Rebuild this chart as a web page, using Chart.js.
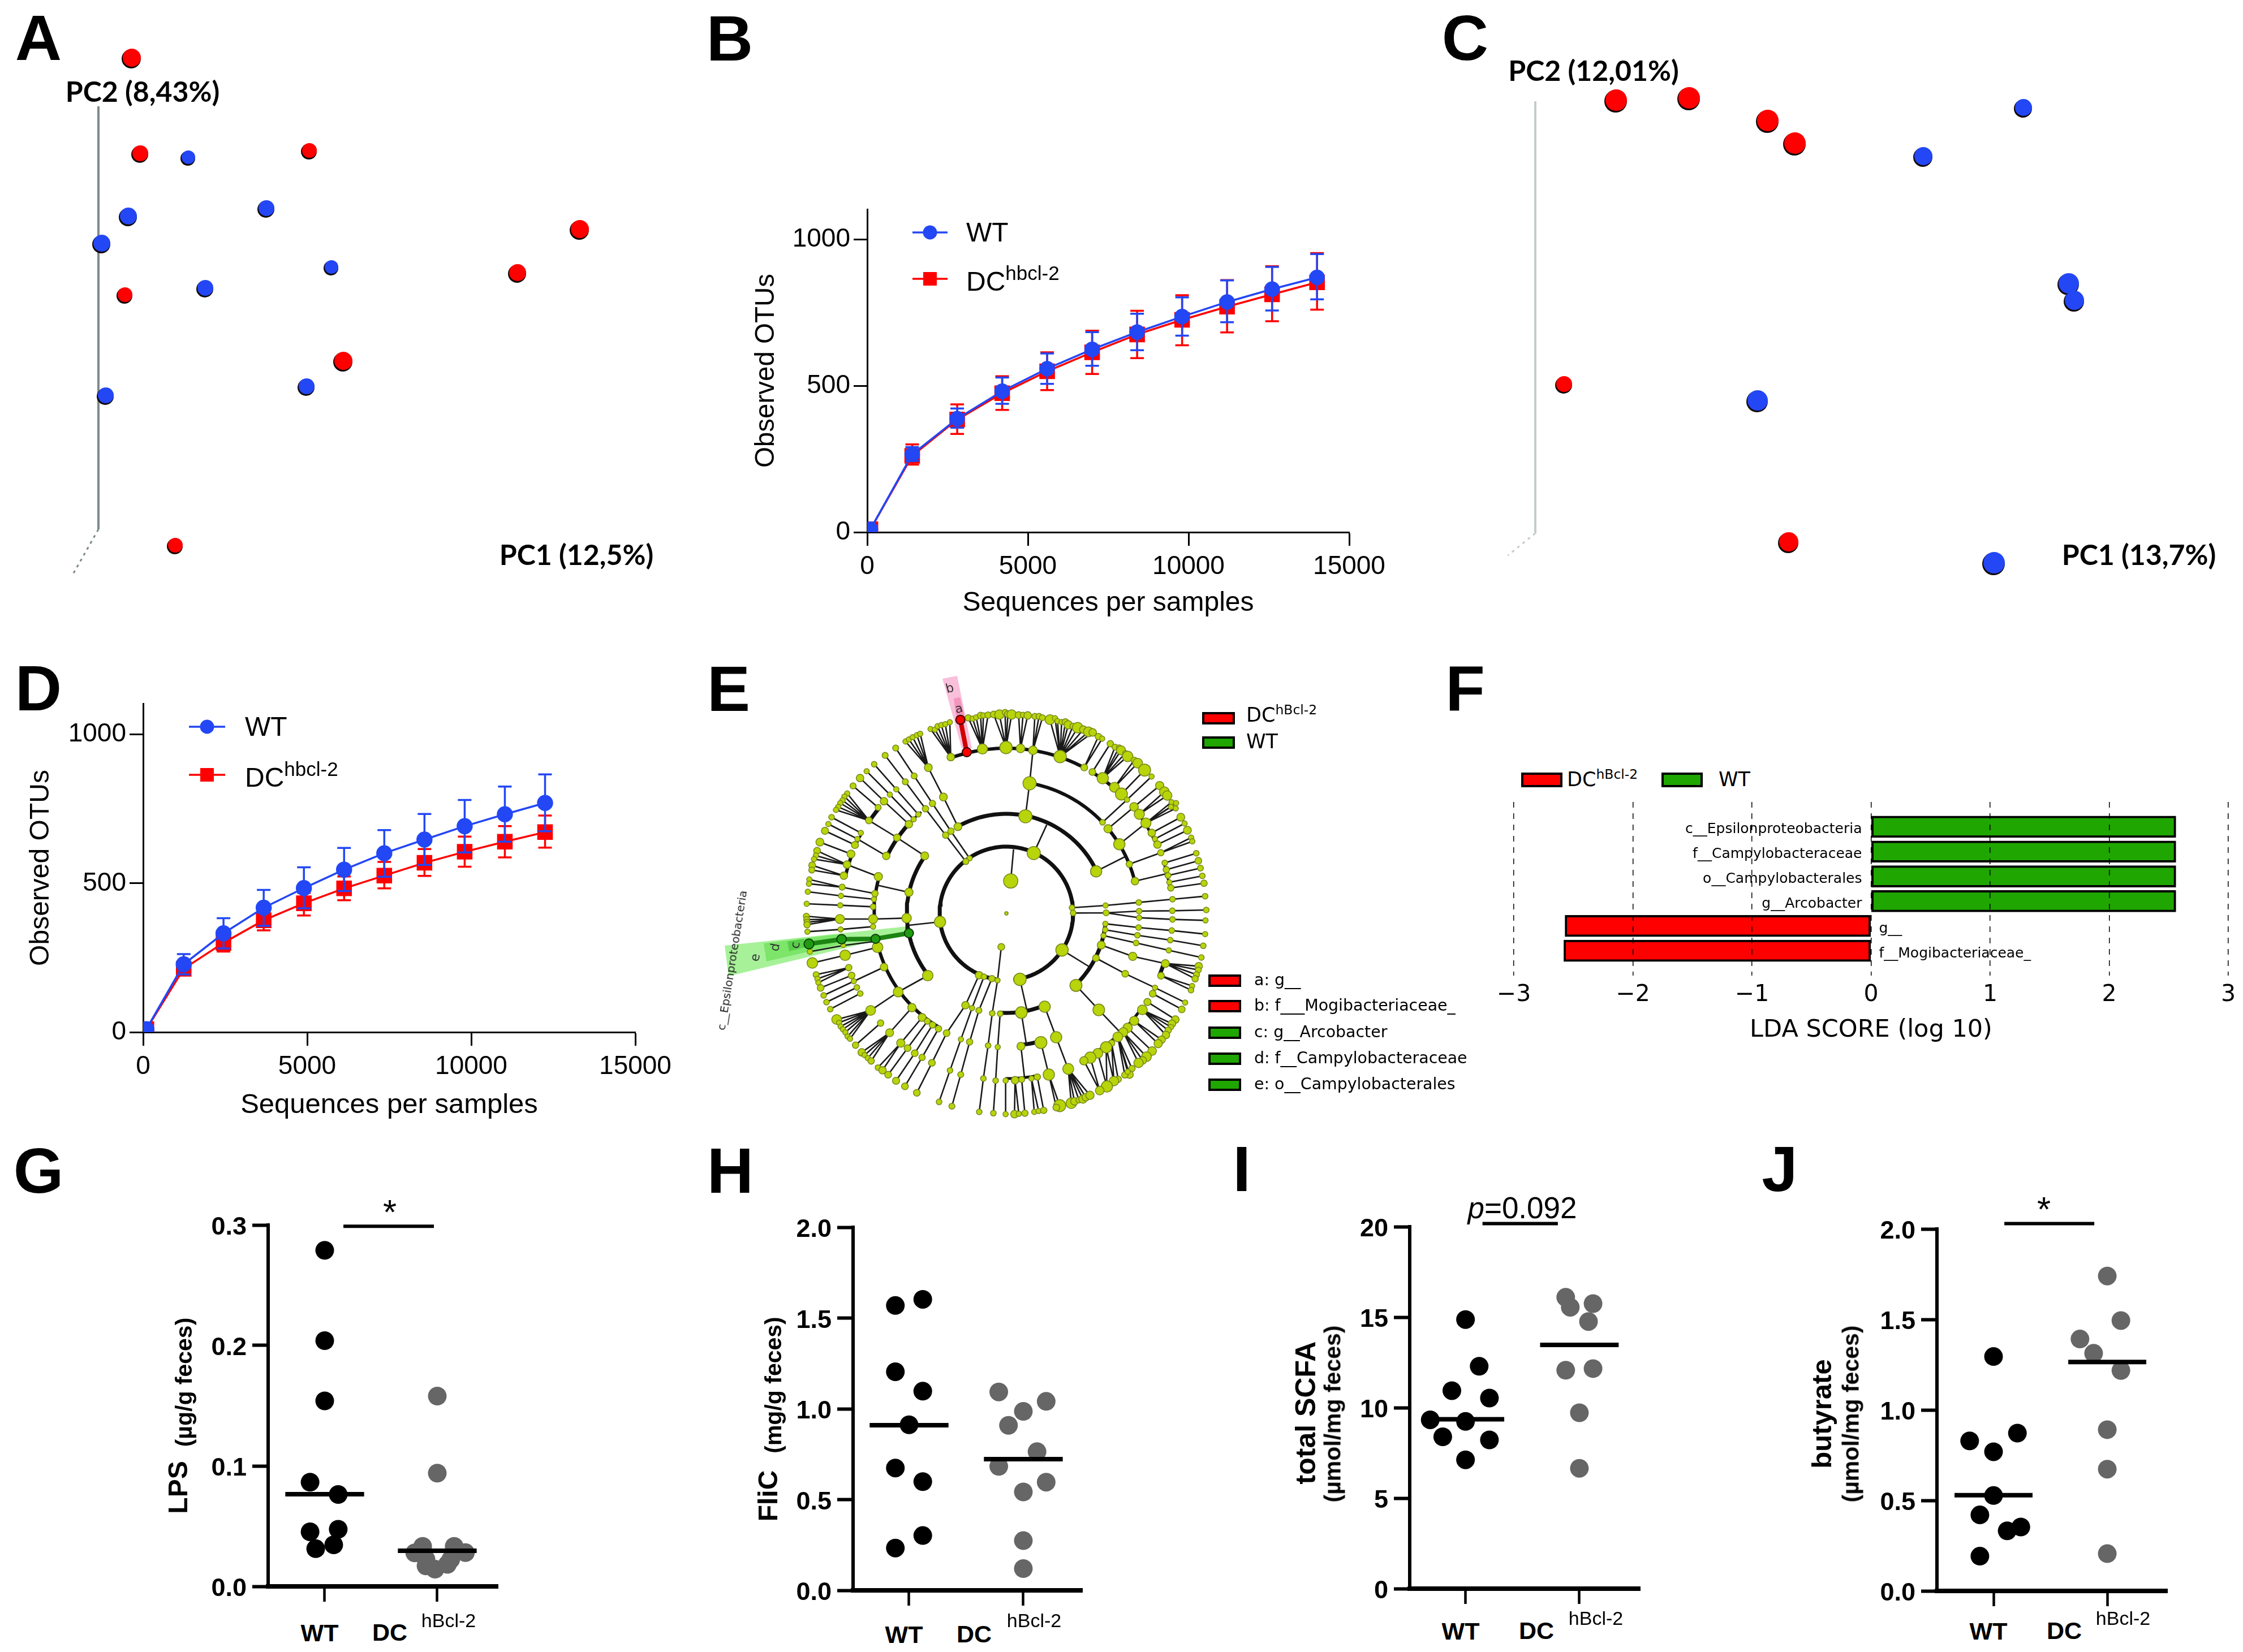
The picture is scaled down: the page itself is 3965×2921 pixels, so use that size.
<!DOCTYPE html>
<html>
<head>
<meta charset="utf-8">
<title>Figure panels A-J</title>
<script src="https://cdn.jsdelivr.net/npm/chart.js@4"></script>
<style>
    html, body { margin: 0; padding: 0; background: #fff; }
    #page { position: relative; width: 3965px; height: 2921px; overflow: hidden; background: #fff; font-family: "Liberation Sans", sans-serif; color: #000; }
    #page canvas { position: absolute; }
    .txt { position: absolute; white-space: nowrap; line-height: 1; }
    .swatch { position: absolute; box-sizing: border-box; border: 4px solid #000; }
</style>
</head>
<body>
<div id="page"></div>
<script>
// ---- panel A / C: PCoA scatter (arbitrary PC units)
var aRedPc1 = [0.59, 0.74, 3.73, 8.51, 7.41, 0.47, 4.33, 1.36];
var aRedPc2 = [8.33, 6.64, 6.69, 5.30, 4.53, 4.14, 2.97, -0.29];
var aRedDepth = [17, 15, 14, 17, 16, 14, 17, 14];
var aBluePc1 = [1.59, 2.97, 0.53, 0.06, 4.12, 1.89, 3.68, 0.13];
var aBluePc2 = [6.57, 5.67, 5.53, 5.05, 4.63, 4.26, 2.52, 2.36];
var aBlueDepth = [13, 15, 16, 16, 13, 15, 15, 15];

var cRedPc1 = [1.43, 2.72, 4.11, 4.59, 0.51, 4.48];
var cRedPc2 = [7.65, 7.69, 7.29, 6.89, 2.63, -0.16];
var cRedDepth = [20, 20, 20, 20, 15, 18];
var cBluePc1 = [8.63, 6.86, 9.43, 9.53, 3.93, 8.11];
var cBluePc2 = [7.52, 6.66, 4.41, 4.11, 2.34, -0.53];
var cBlueDepth = [16, 17, 19, 18, 19, 20];

// ---- panel B / D: rarefaction curves
var bSeq = [100, 1400, 2800, 4200, 5600, 7000, 8400, 9800, 11200, 12600, 14000];
var bWt = [10, 266, 388, 482, 559, 625, 684, 737, 787, 831, 871];
var bWtHi = [10, 291, 423, 529, 611, 684, 747, 803, 861, 907, 951];
var bWtLo = [10, 244, 357, 439, 507, 569, 622, 672, 718, 758, 796];
var bDc = [10, 261, 385, 475, 550, 615, 676, 726, 771, 813, 854];
var bDcHi = [10, 300, 437, 533, 615, 689, 757, 810, 862, 909, 954];
var bDcLo = [10, 231, 336, 418, 486, 541, 595, 639, 683, 721, 761];

var dSeq = [100, 1237, 2450, 3675, 4900, 6125, 7350, 8575, 9800, 11025, 12250];
var dWt = [10, 228, 332, 418, 484, 546, 601, 647, 692, 732, 770];
var dWtHi = [10, 262, 383, 478, 554, 619, 679, 733, 780, 825, 866];
var dWtLo = [10, 194, 281, 357, 416, 474, 522, 562, 604, 640, 675];
var dDc = [10, 213, 300, 376, 433, 483, 526, 569, 606, 640, 672];
var dDcHi = [10, 230, 320, 405, 468, 523, 572, 615, 657, 692, 728];
var dDcLo = [10, 192, 271, 342, 392, 443, 483, 525, 556, 587, 620];

var otuTicks = [0, 500, 1000];
var seqTicks = [0, 5000, 10000, 15000];

// ---- panel E: cladogram, read per quadrant crop as [x, y, size, children]
var cladeNW = [
    [902, 356, 20, [[795, 207, 14], [818, 210, 14], [832, 192, 14], [852, 186, 14], [873, 181, 14], [897, 171, 14]]],
    [1070, 313, 27, [[995, 148, 17], [1018, 152, 14], [1037, 145, 14], [1060, 135, 17], [1075, 135, 14], [1100, 133, 17]]],
    [1195, 305, 33, [[1130, 130, 18], [1160, 130, 25], [1190, 118, 15], [1205, 128, 18], [1225, 130, 25]]],
    [940, 725, 21, [[863, 568, 21, [[783, 412, 21, [[662, 273, 14], [680, 262, 14], [700, 250, 14], [722, 240, 14], [740, 232, 14]]]]]]],
    [1002, 893, 14, [[903, 749, 17, [[805, 602, 17, [[708, 456, 16, [[610, 308, 16]]]]]]]]],
    [982, 910, 16, [[875, 770, 17, [[768, 630, 17, [[661, 487, 16, [[554, 347, 16]]]]]]]]],
    [730, 660, 14, [[613, 527, 14, [[496, 394, 15]]]]],
    [705, 686, 14, [[579, 555, 14, [[456, 431, 14]]]]],
    [680, 712, 20, [[548, 590, 20, [[421, 467, 20]]]]],
    [517, 623, 16, [[384, 509, 16]]],
    [764, 880, 21, [[617, 783, 19, [[468, 692, 18, [[353, 549, 14], [338, 565, 14], [328, 585, 14], [316, 600, 14], [305, 620, 14], [293, 636, 14]]]]]]],
    [560, 880, 20, [[407, 790, 14, [[253, 711, 14]]]]],
    [425, 758, 14, [[270, 675, 15]]],
    [394, 822, 19, [[235, 747, 19]]],
    [680, 1073, 22, [[510, 1035, 0]]],
    [518, 990, 22, [[352, 926, 20, [[193, 853, 18], [187, 878, 14], [177, 897, 14]]]]],
    [373, 870, 21, [[208, 807, 21]]],
    [335, 985, 20, [[167, 930, 18], [165, 955, 16]]],
    [500, 1080, 17, [[326, 1046, 16, [[152, 1005, 14], [150, 1028, 14]]]]],
    [495, 1110, 14, [[320, 1092, 14, [[144, 1070, 14]]]]],
    [490, 1150, 15, [[316, 1142, 14, [[138, 1134, 14]]]]]
];
var cladeNE = [
    [12, 1185, 9],
    [35, 1013, 38, [[50, 845, 0]]],
    [157, 865, 35, [[226, 715, 0]]],
    [113, 670, 35, [[135, 495, 35, [[153, 320, 23, [[163, 140, 16], [185, 140, 16], [203, 147, 16]]]]]]],
    [87, 310, 23, [[77, 133, 18], [100, 132, 14], [125, 135, 20]]],
    [297, 353, 33, [[243, 157, 26], [270, 150, 14], [283, 165, 14], [305, 170, 14], [325, 170, 18], [340, 185, 22], [365, 192, 16], [390, 200, 28], [420, 210, 20], [447, 222, 26], [470, 225, 20]]],
    [425, 411, 18, [[500, 247, 17], [520, 258, 14]]],
    [468, 435, 18, [[563, 285, 17]]],
    [523, 468, 30, [[588, 303, 16], [610, 305, 14], [620, 320, 24], [643, 335, 14], [655, 352, 28]]],
    [585, 516, 26, [[690, 373, 17], [708, 388, 26]]],
    [622, 552, 32, [[745, 425, 32]]],
    [522, 702, 15, [[652, 582, 14, [[782, 459, 14]]]]],
    [551, 736, 22, [[689, 620, 23, [[825, 507, 22]]]]],
    [717, 659, 27, [[850, 540, 26], [865, 560, 25]]],
    [611, 818, 30, [[752, 706, 27, [[888, 595, 14], [912, 600, 14], [885, 620, 14], [910, 628, 14]]]]],
    [783, 758, 20, [[937, 675, 21]]],
    [800, 790, 14, [[957, 708, 14]]],
    [813, 820, 20, [[972, 744, 21]]],
    [664, 924, 17, [[831, 863, 17, [[992, 783, 14], [998, 803, 14]]]]],
    [694, 1014, 20, [[860, 975, 0]]],
    [852, 917, 15, [[1019, 866, 15]]],
    [860, 953, 17, [[1030, 906, 18]]],
    [869, 984, 16, [[1041, 945, 16]]],
    [876, 1020, 14, [[1051, 986, 15]]],
    [884, 1050, 17, [[1060, 1025, 17]]],
    [488, 962, 30, [[640, 885, 0]]],
    [360, 1155, 15, [[538, 1143, 14, [[714, 1127, 15, [[893, 1110, 15, [[1066, 1094, 15]]]]]]]]],
    [366, 1183, 15, [[541, 1182, 16, [[716, 1173, 15, [[892, 1171, 15, [[1072, 1167, 15]]]]], [716, 1208, 14, [[893, 1217, 15, [[1068, 1222, 14]]]]]]]]]
];
var cladeSW = [
    [845, 60, 30, [[680, 78, 0]]],
    [668, 40, 25, [[490, 45, 24, [[314, 45, 24, [[136, 30, 16], [138, 48, 16], [140, 62, 16], [140, 75, 17]]]]]]],
    [490, 85, 14, [[318, 100, 14, [[142, 112, 14]]]]],
    [490, 165, 0, [[332, 185, 12, [[155, 218, 14]]]]],
    [514, 195, 28, [[342, 237, 28, [[168, 278, 28]]]]],
    [548, 300, 20, [[388, 375, 0]]],
    [361, 303, 17, [[188, 340, 16], [195, 362, 14], [200, 382, 14]]],
    [376, 344, 18, [[212, 410, 18]]],
    [388, 375, 14, [[228, 450, 15]]],
    [404, 408, 15, [[243, 486, 15]]],
    [422, 440, 15, [[263, 523, 15]]],
    [623, 432, 26, [[780, 345, 28], [477, 530, 26, [[297, 578, 26], [310, 595, 14], [318, 615, 14], [330, 630, 14], [343, 646, 14], [355, 668, 14], [368, 680, 14]]]]],
    [696, 515, 22, [[578, 648, 21, [[430, 752, 20], [445, 767, 14], [462, 783, 14], [480, 798, 17]]]]],
    [530, 597, 17, [[397, 714, 17]]],
    [750, 567, 21, [[637, 703, 22, [[516, 833, 15], [540, 847, 20]]]]],
    [778, 587, 16, [[673, 730, 18, [[570, 871, 18]]]]],
    [805, 607, 17, [[711, 757, 18, [[612, 903, 19]]]]],
    [837, 627, 17, [[750, 779, 17, [[659, 932, 18]]]]],
    [1052, 343, 20, [[980, 502, 20, [[880, 650, 18, [[802, 808, 18, [[722, 967, 18]]]], [912, 667, 18, [[842, 827, 18, [[770, 987, 18]]]]]]]]]],
    [1078, 351, 15, [[1015, 517, 14, [[956, 683, 14, [[898, 848, 15, [[840, 1015, 15]]]]]]]]],
    [1120, 361, 17, [[1051, 530, 16, [[1002, 697, 17, [[955, 870, 16, [[908, 1038, 16]]]]]], [1081, 535, 16, [[1042, 708, 17, [[1003, 880, 17, [[968, 1055, 16]]]]]]]]]],
    [1150, 370, 14, [[1170, 193, 18], [1122, 545, 15, [[1100, 716, 15, [[1075, 891, 15, [[1053, 1068, 15]]]]]]]]],
    [1164, 547, 15, [[1151, 724, 14, [[1140, 902, 15, [[1128, 1075, 15]]]]]]]
];
var cladeSE = [
    [537, 70, 14, [[713, 90, 15, [[889, 106, 15, [[1066, 125, 14]]]]]]],
    [536, 102, 14, [[707, 131, 15, [[881, 157, 15, [[1056, 187, 15]]]]]]],
    [527, 133, 14, [[700, 172, 15, [[873, 211, 14, [[1046, 249, 15]]]]]]],
    [515, 183, 21, [[682, 243, 22, [[855, 281, 21, [[1032, 295, 20], [1030, 315, 16], [1020, 340, 16], [1013, 362, 17]]]]]]],
    [832, 346, 18, [[997, 400, 14], [991, 422, 15]]],
    [487, 252, 18, [[642, 335, 18, [[800, 409, 14, [[960, 488, 14]]]]]]],
    [788, 441, 18, [[942, 524, 18]]],
    [381, 397, 32, [[502, 527, 31, [[610, 640, 0]]]]],
    [307, 209, 33, [[450, 297, 0]]],
    [84, 365, 33, [[120, 525, 0]]],
    [91, 541, 31, [[118, 710, 0]]],
    [89, 720, 21, [[108, 885, 0]]],
    [8, 902, 14, [[8, 1080, 14]]],
    [58, 900, 20, [[55, 1080, 20], [78, 1078, 14]]],
    [93, 896, 16, [[110, 1075, 17]]],
    [145, 891, 14, [[160, 1068, 14], [183, 1063, 14]]],
    [176, 883, 17, [[210, 1060, 17]]],
    [215, 510, 30, [[276, 672, 30, [[340, 840, 29, [[356, 1022, 28], [373, 1012, 20], [397, 1005, 16], [418, 1000, 22], [433, 990, 20], [455, 980, 22]]]]]]],
    [195, 700, 32, [[237, 870, 30, [[295, 1035, 32], [277, 1045, 18]]]]],
    [760, 485, 19, [[908, 578, 20]]],
    [733, 527, 26, [[890, 600, 20], [885, 618, 14], [870, 635, 17], [858, 660, 20]]],
    [690, 585, 24, [[835, 685, 20], [817, 706, 22]]],
    [655, 622, 25, [[785, 745, 23]]],
    [632, 645, 24, [[755, 775, 26], [735, 795, 20], [713, 808, 25]]],
    [603, 670, 26, [[678, 838, 17], [665, 870, 20], [640, 872, 17], [655, 855, 14]]],
    [570, 703, 17, [[605, 895, 17], [582, 905, 25]]],
    [541, 725, 30, [[582, 905, 0], [545, 933, 30]]],
    [497, 757, 26, [[545, 933, 0]]],
    [457, 780, 30, [[507, 955, 23]]],
    [423, 797, 22, [[507, 955, 0]]]
];
var cladeRedChain = [[987, 330, 24], [953, 158, 24]];       // NW crop
var cladeGreenChain = [[680, 120, 24], [503, 150, 24], [323, 152, 25], [150, 177, 26]]; // SW crop
// thick ring arcs: radius, from angle, to angle (clockwise from north), width
var cladeArcs = [
    [118, 90, 174, 7], [118, 187.5, 445, 7],
    [176, 331, 425, 7], [176, 231.6, 305, 7], [176, 96, 136, 7], [176, 157.7, 183.5, 7],
    [234, 295.6, 312.5, 7], [234, 312.5, 320, 4], [234, 269, 286, 6], [234, 210.5, 255, 6], [234, 10, 46.6, 6], [234, 50, 76, 6],
    [234, 165, 173.8, 7], [234, 224.4, 228.9, 5], [234, 241.3, 251, 4],
    [292, 340.4, 388, 6], [292, 391.3, 406.7, 6], [292, 50.2, 65.5, 5], [292, 72.3, 81.2, 4],
    [292, 283, 291, 6], [292, 294.3, 299, 4], [292, 304, 309.6, 7],
    [292, 125.4, 152.3, 5], [292, 107.5, 112, 7], [292, 169.3, 180.3, 5]
];
var bandPinkOuter = [[-113, -415], [-87, -420], [-61, -292], [-79, -292]];
var bandPinkInner = [[-93, -380], [-82, -382], [-71, -337], [-87, -335]];
var bandGreenOuter = [[-498, 57], [-491, 111], [-172, 34], [-176, 23]];
var bandGreenMiddle = [[-429, 53], [-424, 85], [-296, 55], [-299, 37]];
var bandGreenInner = [[-387, 50], [-384, 67], [-356, 60], [-358, 45]];
var cladeLegend = ['a: g__', 'b: f___Mogibacteriaceae_', 'c: g__Arcobacter', 'd: f__Campylobacteraceae', 'e: o__Campylobacterales'];

// ---- panel F: LDA scores
var ldaTaxa = ['c__Epsilonproteobacteria', 'f__Campylobacteraceae', 'o__Campylobacterales', 'g__Arcobacter', 'g__', 'f__Mogibacteriaceae_'];
var ldaRow = [1, 2, 3, 4, 5, 6];
var ldaScore = [2.56, 2.56, 2.56, 2.56, -2.57, -2.58];
var ldaTicks = [-3, -2, -1, 0, 1, 2, 3];

// ---- panels G-J: dot plots
var groupTicks = [1, 2];
var gWtX = [1, 1, 1, 0.87, 1.12, 0.87, 1.12, 0.92, 1.08];
var gWtY = [0.279, 0.204, 0.154, 0.0865, 0.0763, 0.0453, 0.0474, 0.0313, 0.0345];
var gDcX = [2, 2, 1.87, 2.15, 1.80, 2.25, 1.90, 2.12, 1.90, 2.09, 1.98];
var gDcY = [0.158, 0.094, 0.0332, 0.0332, 0.0278, 0.028, 0.0224, 0.0224, 0.017, 0.0183, 0.0143];
var gMedian = [0.0765, 0.0296];
var gTicks = [0, 0.1, 0.2, 0.3];

var hWtX = [0.88, 1.12, 0.88, 1.12, 1, 0.88, 1.12, 1.12, 0.88];
var hWtY = [1.569, 1.603, 1.204, 1.097, 0.912, 0.674, 0.599, 0.302, 0.233];
var hDcX = [1.785, 2.2, 2, 1.87, 2.12, 1.785, 2.2, 2, 2, 2];
var hDcY = [1.093, 1.041, 0.986, 0.909, 0.764, 0.683, 0.596, 0.542, 0.274, 0.12];
var hMedian = [0.91, 0.723];
var hTicks = [0, 0.5, 1, 1.5, 2];

var iWtX = [1, 1.12, 0.88, 1.21, 0.69, 1, 0.8, 1.21, 1];
var iWtY = [14.87, 12.29, 10.94, 10.53, 9.33, 9.24, 8.39, 8.22, 7.12];
var iDcX = [1.88, 1.92, 2.12, 2.08, 1.88, 2.12, 2, 2];
var iDcY = [16.1, 15.55, 15.75, 14.76, 12.07, 12.16, 9.72, 6.65];
var iMedian = [9.36, 13.47];
var iTicks = [0, 5, 10, 15, 20];

var jWtX = [1, 1.21, 0.79, 1, 1, 0.88, 1.24, 1.12, 0.88];
var jWtY = [1.295, 0.872, 0.829, 0.769, 0.527, 0.42, 0.353, 0.332, 0.192];
var jDcX = [2, 2.12, 1.76, 1.88, 2.12, 2, 2, 2];
var jDcY = [1.74, 1.494, 1.392, 1.313, 1.218, 0.891, 0.673, 0.206];
var jMedian = [0.529, 1.265];
var jTicks = [0, 0.5, 1, 1.5, 2];

var RED = '#ff0000';
var BLUE = '#2347f5';
var GREY = '#666666';
var page = document.getElementById('page');

Chart.defaults.font.family = '"Liberation Sans", sans-serif';
Chart.defaults.color = '#000';
Chart.defaults.animation = false;
Chart.defaults.responsive = false;
Chart.defaults.devicePixelRatio = 1;
Chart.defaults.events = [];
Chart.defaults.plugins.legend.display = false;
Chart.defaults.plugins.tooltip.enabled = false;

function addCanvas(left, top, width, height) {
    var c = document.createElement('canvas');
    c.width = width;
    c.height = height;
    c.style.left = left + 'px';
    c.style.top = top + 'px';
    c.style.width = width + 'px';
    c.style.height = height + 'px';
    page.appendChild(c);
    return c;
}

function text(x, y, html, css, anchor, rotate) {
    var d = document.createElement('div');
    d.className = 'txt';
    var tx = anchor === 'l' ? '0' : (anchor === 'r' ? '-100%' : '-50%');
    d.style.cssText = 'left:' + x + 'px;top:' + y + 'px;transform:translate(' + tx + ',-50%)' + (rotate ? ' rotate(' + rotate + 'deg)' : '') + ';' + (css || '');
    d.innerHTML = html;
    page.appendChild(d);
}

function swatch(x, y, w, h, color) {
    var d = document.createElement('div');
    d.className = 'swatch';
    d.style.cssText = 'left:' + x + 'px;top:' + y + 'px;width:' + w + 'px;height:' + h + 'px;background:' + color;
    page.appendChild(d);
}

function pairs(xs, ys) {
    return xs.map(function(x, i) { return { x: x, y: ys[i] }; });
}

function fixedTicks(values) {
    return function(scale) {
        scale.ticks = values.map(function(v) { return { value: v }; });
    };
}

// Error bars drawn just under each series' own markers
var errorBars = {
    id: 'errorBars',
    beforeDatasetDraw: function(chart, args) {
        var ds = chart.data.datasets[args.index];
        if (!ds.errHi) return;
        var ctx = chart.ctx, xs = chart.scales.x, ys = chart.scales.y;
        ctx.save();
        ctx.strokeStyle = ds.borderColor;
        ctx.lineWidth = 3.5;
        ds.data.forEach(function(p, i) {
            if (i === 0) return;
            var px = xs.getPixelForValue(p.x);
            var hi = ys.getPixelForValue(ds.errHi[i]);
            var lo = ys.getPixelForValue(ds.errLo[i]);
            ctx.beginPath();
            ctx.moveTo(px, hi); ctx.lineTo(px, lo);
            ctx.moveTo(px - 12, hi); ctx.lineTo(px + 12, hi);
            ctx.moveTo(px - 12, lo); ctx.lineTo(px + 12, lo);
            ctx.stroke();
        });
        ctx.restore();
    }
};

function rarefaction(box, seq, wt, wtHi, wtLo, dc, dcHi, dcLo, titleX, titleBottomPad) {
    var L = 260, T = 60, R = 130, B = 180;
    var c = addCanvas(box.left - L, box.top - T, box.right - box.left + L + R, box.bottom - box.top + T + B);
    var axisGrid = { drawOnChartArea: false, tickLength: 24, tickWidth: 3, tickColor: '#000' };
    new Chart(c, {
        type: 'scatter',
        data: {
            datasets: [
                { label: 'WT', data: pairs(seq, wt), errHi: wtHi, errLo: wtLo, showLine: true, borderColor: BLUE, backgroundColor: BLUE, borderWidth: 3.5, pointRadius: box.dot, pointStyle: 'circle' },
                { label: 'DC', data: pairs(seq, dc), errHi: dcHi, errLo: dcLo, showLine: true, borderColor: RED, backgroundColor: RED, borderWidth: 3.5, pointRadius: 17, pointStyle: 'rect' }
            ]
        },
        options: {
            layout: { autoPadding: false, padding: { top: T, right: R, left: 0, bottom: 0 } },
            scales: {
                x: {
                    type: 'linear', min: 0, max: 15000, afterBuildTicks: fixedTicks(seqTicks),
                    afterFit: function(s) { s.height = B; },
                    grid: axisGrid, border: { color: '#000', width: 3 },
                    ticks: { font: { size: 46 }, padding: 10, maxRotation: 0, autoSkip: false, callback: function(v) { return String(v); } },
                    title: { display: true, text: 'Sequences per samples', font: { size: box.xTitle, lineHeight: 1 }, padding: { top: 0, bottom: titleBottomPad } }
                },
                y: {
                    min: 0, max: 1104, afterBuildTicks: fixedTicks(otuTicks),
                    afterFit: function(s) { s.width = L; },
                    grid: axisGrid, border: { color: '#000', width: 3 },
                    ticks: { font: { size: 46 }, padding: 6, autoSkip: false, callback: function(v) { return String(v); } },
                    title: { display: true, text: 'Observed OTUs', font: { size: box.yTitle, lineHeight: 1 }, padding: { top: titleX - (box.left - L) - 23, bottom: 0 } }
                }
            }
        },
        plugins: [errorBars]
    });
}

function rarefactionLegend(markerLeft, markerRight, wtY, dcY, textX) {
    var c = addCanvas(markerLeft - 5, wtY - 40, markerRight - markerLeft + 10, dcY - wtY + 80);
    var cx = (markerRight - markerLeft) / 2 + 5;
    var ctx = c.getContext('2d');
    ctx.lineWidth = 3.5;
    ctx.strokeStyle = BLUE;
    ctx.fillStyle = BLUE;
    ctx.beginPath(); ctx.moveTo(5, 40); ctx.lineTo(markerRight - markerLeft + 5, 40); ctx.stroke();
    ctx.beginPath(); ctx.arc(cx, 40, 12.5, 0, Math.PI * 2); ctx.fill();
    var ry = dcY - wtY + 40;
    ctx.strokeStyle = RED;
    ctx.fillStyle = RED;
    ctx.beginPath(); ctx.moveTo(5, ry); ctx.lineTo(markerRight - markerLeft + 5, ry); ctx.stroke();
    ctx.fillRect(cx - 12, ry - 12, 24, 24);
    text(textX, wtY, 'WT', 'font-size:48px', 'l');
    text(textX, dcY + 5, 'DC<span style="font-size:35px;position:relative;top:-19px">hbcl-2</span>', 'font-size:48px', 'l');
}

// little sphere with a dark underside, like the 3D viewer's dots
function ball(r, color) {
    var c = document.createElement('canvas');
    c.width = 2 * r + 6;
    c.height = 2 * r + 6;
    var ctx = c.getContext('2d');
    ctx.fillStyle = '#120808';
    ctx.beginPath(); ctx.arc(r + 2, r + 4, r, 0, Math.PI * 2); ctx.fill();
    ctx.fillStyle = color;
    ctx.beginPath(); ctx.arc(r + 3, r + 2, r - 1, 0, Math.PI * 2); ctx.fill();
    return c;
}

function balls(sizes, color) {
    return sizes.map(function(r) { return ball(r, color); });
}

function pcoa(left, top, width, height, xMin, xMax, yMin, yMax, redX, redY, redR, blueX, blueY, blueR, axisTop, dropX, dropY, axisColor) {
    var c = addCanvas(left, top, width, height);
    new Chart(c, {
        type: 'scatter',
        data: {
            datasets: [
                { data: pairs(redX, redY), pointStyle: balls(redR, RED), pointRadius: redR, clip: false },
                { data: pairs(blueX, blueY), pointStyle: balls(blueR, BLUE), pointRadius: blueR, clip: false },
                { data: [{ x: 0, y: 0 }, { x: 0, y: axisTop }], showLine: true, borderColor: axisColor, borderWidth: 4, pointRadius: 0 },
                { data: [{ x: 0, y: 0 }, { x: dropX, y: dropY }], showLine: true, borderColor: axisColor, borderWidth: 3, borderDash: [5, 7], pointRadius: 0 }
            ]
        },
        options: {
            layout: { autoPadding: false, padding: 0 },
            scales: {
                x: { type: 'linear', display: false, min: xMin, max: xMax },
                y: { display: false, min: yMin, max: yMax }
            }
        }
    });
}

function dotPlot(cfg) {
    var L = 140, T = 60, R = 30, B = 45;
    var c = addCanvas(cfg.left - L, cfg.top - T, cfg.right - cfg.left + L + R, cfg.bottom - cfg.top + T + B);
    var sets = [
        { data: [{ x: cfg.medX[0], y: cfg.median[0] }, { x: cfg.medX[1], y: cfg.median[0] }], showLine: true, borderColor: '#000', borderWidth: 8, pointRadius: 0, clip: false },
        { data: [{ x: cfg.medX[2], y: cfg.median[1] }, { x: cfg.medX[3], y: cfg.median[1] }], showLine: true, borderColor: '#000', borderWidth: 8, pointRadius: 0, clip: false },
        { data: pairs(cfg.wtX, cfg.wtY), backgroundColor: '#000', pointRadius: 16.5, borderWidth: 0, clip: false },
        { data: pairs(cfg.dcX, cfg.dcY), backgroundColor: GREY, pointRadius: 16.5, borderWidth: 0, clip: false }
    ];
    if (cfg.sig) {
        sets.push({ data: [{ x: cfg.sig[0], y: cfg.sig[2] }, { x: cfg.sig[1], y: cfg.sig[2] }], showLine: true, borderColor: '#000', borderWidth: 6, pointRadius: 0, clip: false });
    }
    new Chart(c, {
        type: 'scatter',
        data: { datasets: sets },
        options: {
            layout: { autoPadding: false, padding: { top: T, right: R, left: 0, bottom: 0 } },
            scales: {
                x: {
                    type: 'linear', min: cfg.xMin, max: cfg.xMax, afterBuildTicks: fixedTicks(groupTicks),
                    afterFit: function(s) { s.height = B; },
                    grid: { drawOnChartArea: false, tickLength: 27, tickWidth: 4.5, tickColor: '#000' },
                    border: { color: '#000', width: 8 },
                    ticks: { display: false }
                },
                y: {
                    min: 0, max: cfg.yMax, afterBuildTicks: fixedTicks(cfg.ticks),
                    afterFit: function(s) { s.width = L; },
                    grid: { drawOnChartArea: false, tickLength: 28, tickWidth: 6, tickColor: '#000' },
                    border: { color: '#000', width: 6 },
                    ticks: { font: { size: 45, weight: 'bold' }, padding: 10, labelOffset: 5, autoSkip: false, callback: cfg.fmt }
                }
            }
        }
    });
    text(cfg.wtLabel[0], cfg.wtLabel[1], 'WT', 'font-size:43px;font-weight:bold');
    text(cfg.dcLabel[0], cfg.dcLabel[1], 'DC', 'font-size:43px;font-weight:bold');
    text(cfg.supLabel[0], cfg.supLabel[1], 'hBcl-2', 'font-size:34px');
}

function oneDecimal(v) { return v.toFixed(1); }
function whole(v) { return String(v); }

// ---- panels A and C
pcoa(74, 36, 1100, 1000, -1, 10, -1, 9, aRedPc1, aRedPc2, aRedDepth, aBluePc1, aBluePc2, aBlueDepth, 7.48, -0.455, -0.8, '#7d8a8a');
text(252, 161, 'PC2 (8,43%)', 'font:bold 50px Lato');
text(1019, 980, 'PC1 (12,5%)', 'font:bold 50px Lato');
pcoa(2614, 43, 1300, 1000, -1, 12, -1, 9, cRedPc1, cRedPc2, cRedDepth, cBluePc1, cBluePc2, cBlueDepth, 7.64, -0.485, -0.39, '#c5cccc');
text(2817, 124, 'PC2 (12,01%)', 'font:bold 50px Lato');
text(3781, 980, 'PC1 (13,7%)', 'font:bold 50px Lato');

// ---- panels B and D
rarefaction({ left: 1533, right: 2385, top: 370, bottom: 941, dot: 12, xTitle: 48, yTitle: 47.5 }, bSeq, bWt, bWtHi, bWtLo, bDc, bDcHi, bDcLo, 1354, 30);
rarefactionLegend(1613, 1675, 411, 493, 1708);
rarefaction({ left: 253, right: 1123, top: 1244, bottom: 1825, dot: 12.5, xTitle: 49, yTitle: 48 }, dSeq, dWt, dWtHi, dWtLo, dDc, dDcHi, dDcLo, 72, 26);
rarefactionLegend(334, 398, 1285, 1370, 433);

// ---- panel E
function quadrantPoint(q, x, y) {
    return { x: x / 3 - q[0], y: y / 3 - q[1] };
}

var cladeNodes = [], cladeEdges = [];
function walkClade(node, q, parent) {
    var p = quadrantPoint(q, node[0], node[1]);
    if (node[2] > 0) cladeNodes.push({ x: p.x, y: p.y, r: node[2] / 3 });
    if (parent) cladeEdges.push(parent, p, { x: NaN, y: NaN });
    (node[3] || []).forEach(function(k) { walkClade(k, q, p); });
}
cladeNW.forEach(function(n) { walkClade(n, [399, 395]); });
cladeNE.forEach(function(n) { walkClade(n, [4, 395]); });
cladeSW.forEach(function(n) { walkClade(n, [399, 5]); });
cladeSE.forEach(function(n) { walkClade(n, [4, 5]); });

function chainPoints(chain, q) {
    return chain.map(function(n) {
        var p = quadrantPoint(q, n[0], n[1]);
        p.r = n[2] / 3;
        return p;
    });
}

function arcPoints(arc) {
    var pts = [];
    for (var a = arc[1]; a < arc[2]; a += 2) {
        var rad = a * Math.PI / 180;
        pts.push({ x: arc[0] * Math.sin(rad), y: -arc[0] * Math.cos(rad) });
    }
    var end = arc[2] * Math.PI / 180;
    pts.push({ x: arc[0] * Math.sin(end), y: -arc[0] * Math.cos(end) });
    return pts;
}

var cladeBands = {
    id: 'cladeBands',
    beforeDatasetsDraw: function(chart) {
        var ctx = chart.ctx, xs = chart.scales.x, ys = chart.scales.y;
        function fill(poly, color) {
            ctx.fillStyle = color;
            ctx.beginPath();
            poly.forEach(function(p, i) {
                var px = xs.getPixelForValue(p[0]), py = ys.getPixelForValue(p[1]);
                if (i === 0) ctx.moveTo(px, py); else ctx.lineTo(px, py);
            });
            ctx.closePath();
            ctx.fill();
        }
        fill(bandPinkOuter, 'rgba(248,170,205,0.75)');
        fill(bandPinkInner, 'rgba(240,120,170,0.6)');
        fill(bandGreenOuter, 'rgba(130,235,110,0.7)');
        fill(bandGreenMiddle, 'rgba(90,220,70,0.55)');
        fill(bandGreenInner, 'rgba(60,190,50,0.6)');
    }
};

var redChain = chainPoints(cladeRedChain, [399, 395]);
var greenChain = chainPoints(cladeGreenChain, [399, 5]);
var cladeSets = [
    { type: 'bubble', data: redChain, backgroundColor: RED, borderColor: '#300', borderWidth: 2, order: 0, clip: false },
    { type: 'bubble', data: greenChain, backgroundColor: '#1f9a12', borderColor: '#0b3d06', borderWidth: 2, order: 0, clip: false },
    { type: 'bubble', data: cladeNodes, backgroundColor: '#b8d40a', borderColor: '#76861a', borderWidth: 1.5, order: 1, clip: false },
    { type: 'line', data: redChain, borderColor: '#d00000', borderWidth: 8, pointRadius: 0, order: 2 },
    { type: 'line', data: greenChain, borderColor: '#1c8412', borderWidth: 8, pointRadius: 0, order: 2 },
    { type: 'line', data: cladeEdges, borderColor: '#1a1a1a', borderWidth: 2.6, pointRadius: 0, spanGaps: false, order: 3 }
];
cladeArcs.forEach(function(a) {
    cladeSets.push({ type: 'line', data: arcPoints(a), borderColor: '#111', borderWidth: a[3], pointRadius: 0, order: 3 });
});

new Chart(addCanvas(1270, 1190, 900, 830), {
    type: 'bubble',
    data: { datasets: cladeSets },
    options: {
        layout: { autoPadding: false, padding: 0 },
        scales: {
            x: { type: 'linear', display: false, min: -509, max: 391 },
            y: { display: false, reverse: true, min: -425, max: 405 }
        }
    },
    plugins: [cladeBands]
});
var dejavu = 'font-family:\'DejaVu Sans\';';
text(1679, 1217, 'b', dejavu + 'font-size:22px;color:#333', 'c', -15);
text(1695, 1253, 'a', dejavu + 'font-size:22px;color:#333', 'c', -15);
text(1406, 1671, 'c', dejavu + 'font-size:22px;color:#333', 'c', -80);
text(1370, 1675, 'd', dejavu + 'font-size:22px;color:#333', 'c', -80);
text(1335, 1693, 'e', dejavu + 'font-size:22px;color:#333', 'c', -80);
text(1294, 1698, 'c__Epsilonproteobacteria', dejavu + 'font-size:20px;color:#222', 'c', -81);
swatch(2125, 1259, 58, 22, RED);
swatch(2125, 1302, 58, 22, '#1fa600');
text(2203, 1264, 'DC<span style="font-size:23.5px;position:relative;top:-13px">hBcl-2</span>', dejavu + 'font-size:35px', 'l');
text(2203, 1311, 'WT', dejavu + 'font-size:35px', 'l');
var swatchRows = [1723, 1768, 1815, 1861, 1907];
cladeLegend.forEach(function(t, i) {
    swatch(2136, swatchRows[i], 58, 22, i < 2 ? RED : '#1fa600');
    text(2217, swatchRows[i] + 10, t, dejavu + 'font-size:28.4px', 'l');
});

// ---- panel F
var taxaLabels = {
    id: 'taxaLabels',
    afterDatasetsDraw: function(chart) {
        var ctx = chart.ctx, xs = chart.scales.x, ys = chart.scales.y;
        ctx.save();
        ctx.fillStyle = '#000';
        ctx.font = '25px "DejaVu Sans"';
        ctx.textBaseline = 'middle';
        ldaTaxa.forEach(function(t, i) {
            var y = ys.getPixelForValue(ldaRow[i]) + 5;
            if (ldaScore[i] > 0) {
                ctx.textAlign = 'right';
                ctx.fillText(t, xs.getPixelForValue(0) - 16, y);
            } else {
                ctx.textAlign = 'left';
                ctx.fillText(t, xs.getPixelForValue(0) + 14, y);
            }
        });
        ctx.restore();
    }
};

(function() {
    var left = 2676, right = 3939, top = 1418, bottom = 1725, L = 60, R = 26, T = 10, B = 130;
    new Chart(addCanvas(left - L, top - T, right - left + L + R, bottom - top + T + B), {
        type: 'bar',
        data: {
            datasets: [{
                data: pairs(ldaScore, ldaRow),
                backgroundColor: ldaScore.map(function(v) { return v > 0 ? '#1fa600' : RED; }),
                borderColor: '#000', borderWidth: 4, borderSkipped: false, barThickness: 38
            }]
        },
        options: {
            indexAxis: 'y',
            layout: { autoPadding: false, padding: { top: T, right: R, left: L, bottom: 0 } },
            scales: {
                x: {
                    type: 'linear', min: -3, max: 3, afterBuildTicks: fixedTicks(ldaTicks),
                    afterFit: function(s) { s.height = B; },
                    grid: { color: '#000', lineWidth: 1.5, drawTicks: false, z: 1 },
                    border: { display: false, dash: [10, 10] },
                    ticks: { font: { family: '"DejaVu Sans"', size: 41 }, padding: 10, autoSkip: false, maxRotation: 0, callback: function(v) { return v < 0 ? '\u2212' + Math.abs(v) : String(v); } },
                    title: { display: true, text: 'LDA SCORE (log 10)', font: { family: '"DejaVu Sans"', size: 43, lineHeight: 1 }, padding: { top: 0, bottom: 12 } }
                },
                y: { type: 'linear', display: false, reverse: true, offset: false, min: 0, max: 7 }
            }
        },
        plugins: [taxaLabels]
    });
})();
swatch(2689, 1366, 73, 26, RED);
text(2770, 1378, 'DC<span style="font-size:23.5px;position:relative;top:-13px">hBcl-2</span>', dejavu + 'font-size:35px', 'l');
swatch(2937, 1366, 73, 26, '#1fa600');
text(3038, 1378, 'WT', dejavu + 'font-size:35px', 'l');

// ---- panels G-J
dotPlot({ left: 474, right: 880, top: 2166, bottom: 2805, xMin: 0.4975, xMax: 2.5377, yMax: 0.3, ticks: gTicks, fmt: oneDecimal,
    wtX: gWtX, wtY: gWtY, dcX: gDcX, dcY: gDcY, median: gMedian, medX: [0.65, 1.35, 1.65, 2.35], sig: [1.166, 1.97, 0.299],
    wtLabel: [565, 2887], dcLabel: [689, 2886], supLabel: [793, 2865] });
dotPlot({ left: 1508, right: 1913, top: 2170, bottom: 2812, xMin: 0.51, xMax: 2.515, yMax: 2, ticks: hTicks, fmt: oneDecimal,
    wtX: hWtX, wtY: hWtY, dcX: hDcX, dcY: hDcY, median: hMedian, medX: [0.655, 1.345, 1.655, 2.345],
    wtLabel: [1598, 2890], dcLabel: [1722, 2889], supLabel: [1828, 2865] });
dotPlot({ left: 2492, right: 2899, top: 2169, bottom: 2809, xMin: 0.51, xMax: 2.532, yMax: 20, ticks: iTicks, fmt: whole,
    wtX: iWtX, wtY: iWtY, dcX: iDcX, dcY: iDcY, median: iMedian, medX: [0.75, 1.34, 1.655, 2.345], sig: [1.149, 1.811, 20.17],
    wtLabel: [2582, 2884], dcLabel: [2716, 2883], supLabel: [2821, 2861] });
dotPlot({ left: 3424, right: 3831, top: 2173, bottom: 2813, xMin: 0.5025, xMax: 2.527, yMax: 2, ticks: jTicks, fmt: oneDecimal,
    wtX: jWtX, wtY: jWtY, dcX: jDcX, dcY: jDcY, median: jMedian, medX: [0.657, 1.343, 1.657, 2.343], sig: [1.095, 1.886, 2.03],
    wtLabel: [3515, 2884], dcLabel: [3649, 2883], supLabel: [3753, 2861] });

var boldTitle = 'font-weight:bold;font-size:48px';
var boldUnit = 'font-weight:bold;font-size:41px';
text(315, 2630, 'LPS', boldTitle, 'c', -90);
text(325, 2444, '(µg/g feces)', boldUnit, 'c', -90);
text(1358, 2645, 'FliC', boldTitle, 'c', -90);
text(1367, 2449, '(mg/g feces)', boldUnit, 'c', -90);
text(2308, 2498, 'total SCFA', 'font-weight:bold;font-size:50px', 'c', -90);
text(2356, 2500, '(µmol/mg feces)', boldUnit, 'c', -90);
text(3220, 2500, 'butyrate', 'font-weight:bold;font-size:49px', 'c', -90);
text(3272, 2500, '(µmol/mg feces)', boldUnit, 'c', -90);
text(689, 2143, '*', 'font-size:62px');
text(3613, 2138, '*', 'font-size:62px');
text(2691, 2135, '<i>p</i>=0.092', 'font-size:53px');

// ---- panel letters
var panelLetters = ['A', 'B', 'C', 'D', 'E', 'F', 'G', 'H', 'I', 'J'];
var letterX = [68, 1290, 2590, 68, 1288, 2590, 68, 1291, 2195, 3146];
var letterY = [67, 68, 67, 1217, 1218, 1218, 2070, 2070, 2067, 2067];
panelLetters.forEach(function(l, i) {
    text(letterX[i], letterY[i], l, 'font-weight:bold;font-size:114px');
});
</script>
</body>
</html>
